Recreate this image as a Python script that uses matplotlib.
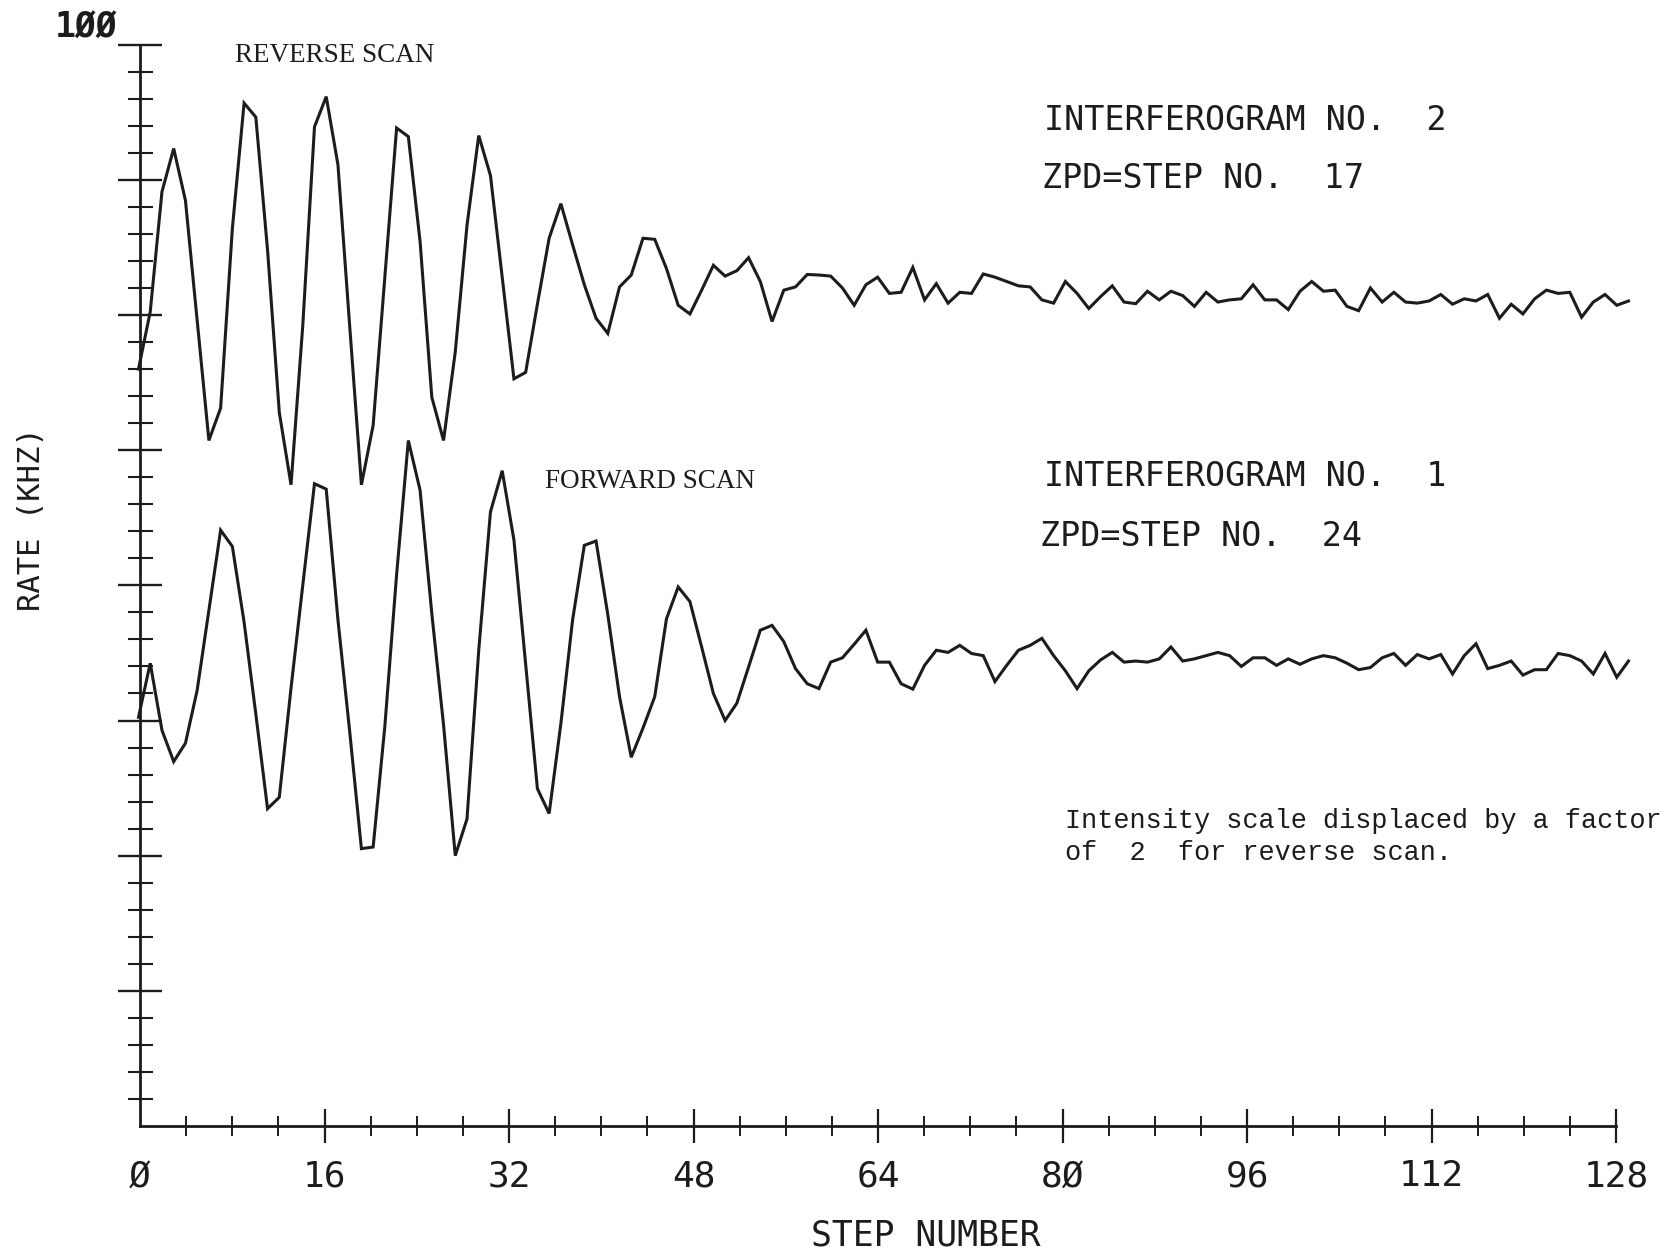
import numpy as np
import matplotlib
matplotlib.use("Agg")
import matplotlib.pyplot as plt
from matplotlib.ticker import FixedLocator

# Step numbers of the 128 samples of each scan
steps = list(range(1, 129))

# Count rate (kHz) per step, reverse scan (interferogram no. 2)
reverse_scan = [
    70.0, 75.3, 86.4, 90.4, 85.6, 74.5, 63.4, 66.4, 83.0, 94.6,
    93.3, 81.0, 66.0, 59.3, 74.0, 92.4, 95.2, 88.9, 74.0, 59.3,
    64.8, 78.5, 92.3, 91.5, 81.8, 67.4, 63.4, 71.6, 83.3, 91.6,
    87.9, 78.5, 69.1, 69.7, 76.0, 82.1, 85.3, 81.5, 77.8, 74.7,
    73.3, 77.6, 78.7, 82.1, 82.0, 79.3, 75.9, 75.1, 77.3, 79.6,
    78.6, 79.1, 80.3, 78.1, 74.4, 77.3, 77.6, 78.75, 78.7, 78.6,
    77.5, 75.9, 77.8, 78.5, 77.0, 77.1, 79.4, 76.4, 77.9, 76.1,
    77.1, 77.0, 78.8, 78.5, 78.1, 77.7, 77.6, 76.4, 76.1, 78.1,
    77.0, 75.6, 76.7, 77.7, 76.2, 76.05, 77.2, 76.4, 77.2, 76.8,
    75.8, 77.1, 76.2, 76.4, 76.5, 77.8, 76.4, 76.4, 75.5, 77.2,
    78.1, 77.2, 77.3, 75.8, 75.4, 77.5, 76.2, 77.1, 76.2, 76.1,
    76.3, 76.9, 76.0, 76.5, 76.3, 76.9, 74.7, 76.0, 75.1, 76.5,
    77.3, 77.0, 77.1, 74.8, 76.2, 76.9, 75.9, 76.3,
]

# Count rate (kHz) per step, forward scan (interferogram no. 1)
forward_scan = [
    37.8, 42.8, 36.6, 33.7, 35.4, 40.3, 47.7, 55.1, 53.6, 46.6,
    38.1, 29.35, 30.4, 40.5, 50.0, 59.4, 58.9, 46.8, 36.5, 25.65,
    25.8, 37.0, 51.0, 63.4, 58.8, 47.4, 37.1, 25.0, 28.4, 44.0,
    56.8, 60.6, 54.2, 42.7, 31.2, 28.9, 37.2, 46.8, 53.7, 54.1,
    47.3, 39.7, 34.1, 36.8, 39.7, 46.9, 49.85, 48.5, 44.3, 40.0,
    37.5, 39.1, 42.45, 45.85, 46.3, 44.8, 42.3, 40.9, 40.45, 42.9,
    43.3, 44.55, 45.85, 42.9, 42.9, 40.9, 40.4, 42.6, 44.0, 43.8,
    44.45, 43.7, 43.5, 41.1, 42.6, 44.0, 44.45, 45.1, 43.5, 42.1,
    40.45, 42.1, 43.1, 43.8, 42.9, 43.0, 42.9, 43.2, 44.3, 43.0,
    43.2, 43.5, 43.8, 43.5, 42.5, 43.3, 43.3, 42.6, 43.2, 42.7,
    43.2, 43.5, 43.3, 42.8, 42.2, 42.4, 43.3, 43.7, 42.6, 43.6,
    43.2, 43.6, 41.8, 43.5, 44.6, 42.3, 42.6, 43.0, 41.7, 42.2,
    42.2, 43.7, 43.5, 43.0, 41.8, 43.7, 41.5, 43.0,
]

x_ticks = [0, 16, 32, 48, 64, 80, 96, 112, 128]
x_tick_labels = ["Ø", "16", "32", "48", "64", "8Ø", "96", "112", "128"]
y_top_label = "1ØØ"

W, H, DPI = 1670, 1250, 100
INK = "#1c1c1c"
PLOTTER = "DejaVu Sans Mono"

fig = plt.figure(figsize=(W / DPI, H / DPI), dpi=DPI)
fig.patch.set_facecolor("white")


def px_box(x0, x1, y_top, y_bottom):
    """Axes rectangle from pixel edges (origin at top-left)."""
    return [x0 / W, 1 - y_bottom / H, (x1 - x0) / W, (y_bottom - y_top) / H]


# Frame with the scale ticks
ax = fig.add_axes(px_box(140, 1616, 44.7, 1126))
ax.set_xlim(0, 128)
ax.set_ylim(0, 100)
for side in ("top", "right"):
    ax.spines[side].set_visible(False)
for side in ("left", "bottom"):
    ax.spines[side].set_linewidth(2.0)
    ax.spines[side].set_color(INK)

ax.xaxis.set_major_locator(FixedLocator(x_ticks))
ax.set_xticklabels(x_tick_labels, family=PLOTTER, fontsize=26, color=INK)
ax.xaxis.set_minor_locator(FixedLocator([v for v in range(4, 128, 4) if v % 16]))
ax.yaxis.set_major_locator(FixedLocator(np.arange(12.5, 100.1, 12.5)))
ax.yaxis.set_minor_locator(FixedLocator([v for v in np.arange(2.5, 100, 2.5) if v % 12.5]))

ax.tick_params(axis="x", which="major", direction="inout", length=24, width=1.6,
               pad=12, colors=INK)
ax.tick_params(axis="x", which="minor", direction="inout", length=14, width=1.4, colors=INK)
ax.tick_params(axis="y", which="major", direction="inout", length=31, width=1.7,
               labelleft=False, colors=INK)
ax.tick_params(axis="y", which="minor", direction="inout", length=18, width=1.5, colors=INK)
ax.xaxis.get_major_ticks()[0].tick1line.set_visible(False)

ax.annotate(y_top_label, xy=(0, 100), xytext=(-16, 13), textcoords="offset points",
            ha="right", va="center", family=PLOTTER, fontsize=25, fontweight="bold",
            color=INK)

ax.set_xlabel("STEP NUMBER", family=PLOTTER, fontsize=25, color=INK,
              va="center", ha="center")
ax.xaxis.set_label_coords((926 - 140) / 1476, -(1235 - 1126) / 1081.3)
ax.set_ylabel("RATE (KHZ)", family=PLOTTER, fontsize=22, color=INK,
              va="center", ha="center")
ax.yaxis.set_label_coords((32 - 140) / 1476, (1126 - 519) / 1081.3)

# Signal traces: the pen plot spans a slightly wider run than the step scale
sig = fig.add_axes(px_box(138.5, 1628.5, 44.7, 1126))
sig.set_xlim(1, 128)
sig.set_ylim(0, 100)
sig.axis("off")
sig.patch.set_alpha(0)
sig.plot(steps, reverse_scan, color=INK, lw=2.2, solid_joinstyle="miter",
         clip_on=False)
sig.plot(steps, forward_scan, color=INK, lw=2.2, solid_joinstyle="miter",
         clip_on=False)

# Scan captions
serif = "Liberation Serif"
fig.text(235 / W, 1 - 56 / H, "REVERSE SCAN", family=serif, fontsize=19.5,
         color=INK, ha="left", va="center")
fig.text(545 / W, 1 - 481 / H, "FORWARD SCAN", family=serif, fontsize=19.5,
         color=INK, ha="left", va="center")

for (x, y, s) in [(1044, 120, "INTERFEROGRAM NO.  2"),
                  (1042, 178, "ZPD=STEP NO.  17"),
                  (1044, 477, "INTERFEROGRAM NO.  1"),
                  (1040, 536, "ZPD=STEP NO.  24")]:
    fig.text(x / W, 1 - y / H, s, family=PLOTTER, fontsize=24, color=INK,
             ha="left", va="center")

for (y, s) in [(821, "Intensity scale displaced by a factor"),
               (853, "of  2  for reverse scan.")]:
    fig.text(1065 / W, 1 - y / H, s, family="Liberation Mono", fontsize=19.4,
             color=INK, ha="left", va="center")

fig.savefig("out.png", dpi=DPI, facecolor="white")
